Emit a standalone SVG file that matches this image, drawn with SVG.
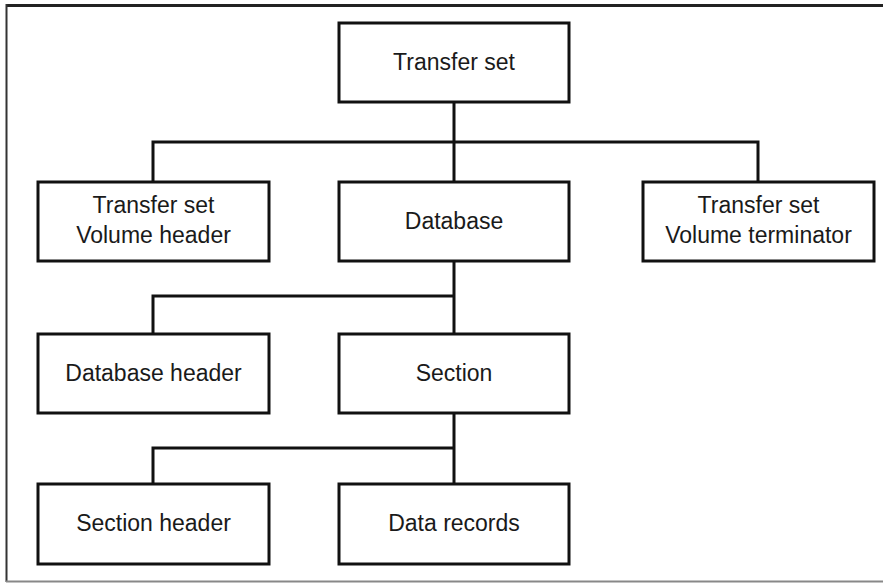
<svg xmlns="http://www.w3.org/2000/svg" width="883" height="583" viewBox="0 0 883 583">
<style>
.box{fill:#fff;stroke:#111;stroke-width:3}
.lbl{font-family:"Liberation Sans",Arial,sans-serif;font-size:23px;fill:#1a1a1a;text-anchor:middle}
.con{fill:none;stroke:#111;stroke-width:3}
</style>
<rect width="883" height="583" fill="#fff"/>
<g id="frame">
<line x1="6" y1="5.5" x2="883" y2="5.5" stroke="#222" stroke-width="3"/>
<line x1="6.5" y1="4" x2="6.5" y2="582" stroke="#333" stroke-width="2"/>
<line x1="6" y1="581.5" x2="883" y2="581.5" stroke="#888" stroke-width="2"/>
</g>
<g id="connectors">
<path class="con" d="M454 102V182M153 182V142H758V182"/>
<path class="con" d="M454 261V334M153 334V296H454"/>
<path class="con" d="M454 413V484M153 484V448H454"/>
</g>
<g id="n-transfer-set"><rect class="box" x="339" y="23" width="230" height="79"/><text class="lbl" x="454" y="70">Transfer set</text></g>
<g id="n-vol-header"><rect class="box" x="38" y="182" width="231" height="79"/><text class="lbl" x="153.5" y="213">Transfer set</text><text class="lbl" x="153.5" y="243">Volume header</text></g>
<g id="n-database"><rect class="box" x="339" y="182" width="230" height="79"/><text class="lbl" x="454" y="229">Database</text></g>
<g id="n-vol-term"><rect class="box" x="643" y="182" width="231" height="79"/><text class="lbl" x="758.5" y="213">Transfer set</text><text class="lbl" x="758.5" y="243">Volume terminator</text></g>
<g id="n-db-header"><rect class="box" x="38" y="334" width="231" height="79"/><text class="lbl" x="153.5" y="381">Database header</text></g>
<g id="n-section"><rect class="box" x="339" y="334" width="230" height="79"/><text class="lbl" x="454" y="381">Section</text></g>
<g id="n-sec-header"><rect class="box" x="38" y="484" width="231" height="80"/><text class="lbl" x="153.5" y="531">Section header</text></g>
<g id="n-data-records"><rect class="box" x="339" y="484" width="230" height="80"/><text class="lbl" x="454" y="531">Data records</text></g>
</svg>
